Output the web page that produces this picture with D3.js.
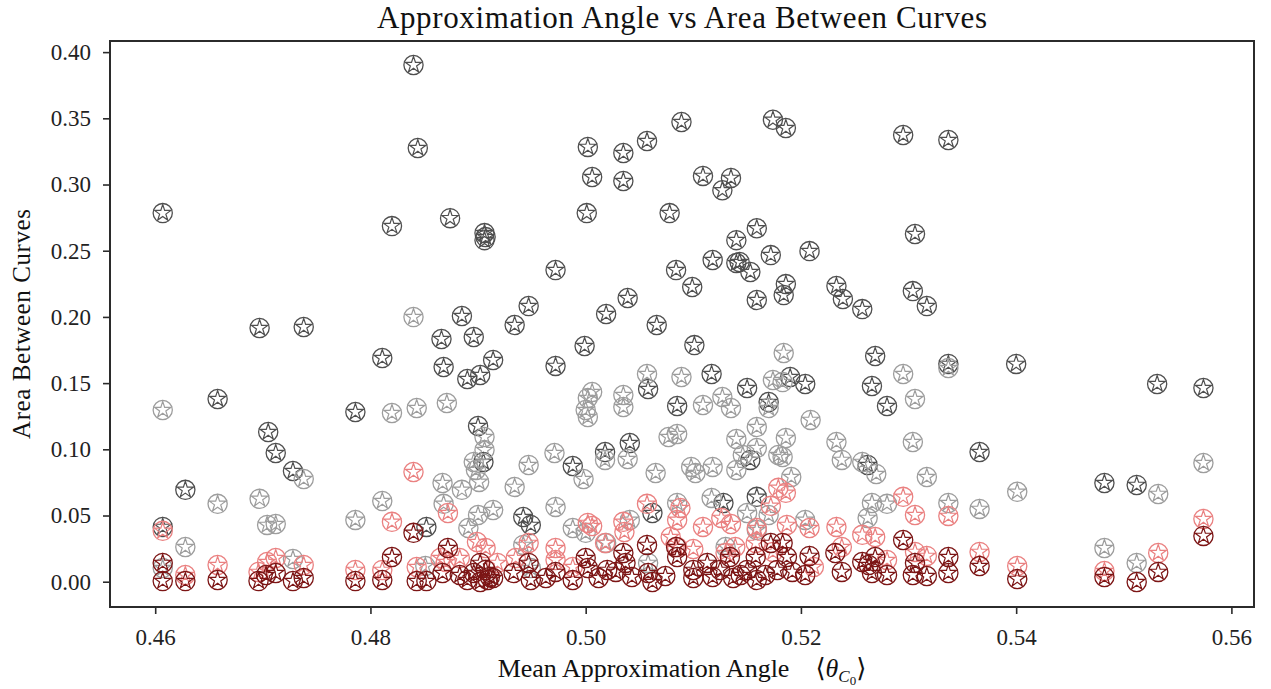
<!DOCTYPE html>
<html><head><meta charset="utf-8">
<script src="https://cdn.jsdelivr.net/npm/d3@7"></script>
<style>body{margin:0;background:#fff}svg{display:block}text{font-family:"Liberation Serif","DejaVu Serif",serif}</style>
</head><body><svg id="c" width="1271" height="689"></svg>
<script>
const xTicks=[0.46,0.48,0.50,0.52,0.54,0.56];
const yTicks=[0.00,0.05,0.10,0.15,0.20,0.25,0.30,0.35,0.40];
const seriesNames=["dark gray","light gray","light red","dark red"];
const darkGray=[[0.4607,0.2784],[0.4607,0.0414],[0.4628,0.0694],[0.4658,0.1380],[0.4697,0.1916],[0.4705,0.1131],[0.4712,0.0972],[0.4728,0.0836],[0.4738,0.1924],[0.4786,0.1282],[0.4811,0.1690],[0.4820,0.2686],[0.4840,0.3903],[0.4844,0.3276],[0.4852,0.0414],[0.4866,0.1833],[0.4868,0.1622],[0.4874,0.2746],[0.4885,0.2007],[0.4890,0.1531],[0.4896,0.1848],[0.4902,0.1561],[0.4900,0.1176],[0.4905,0.0905],[0.4906,0.2633],[0.4907,0.2603],[0.4906,0.2580],[0.4914,0.1675],[0.4934,0.1939],[0.4942,0.0489],[0.4949,0.0429],[0.4947,0.2082],[0.4972,0.2354],[0.4972,0.1630],[0.4988,0.0874],[0.5001,0.2784],[0.5002,0.3284],[0.4999,0.1780],[0.5006,0.3057],[0.5019,0.2022],[0.5018,0.0980],[0.5035,0.3238],[0.5035,0.3027],[0.5039,0.2143],[0.5041,0.1048],[0.5057,0.3329],[0.5058,0.1456],[0.5062,0.0519],[0.5066,0.1939],[0.5078,0.2784],[0.5084,0.2354],[0.5085,0.1327],[0.5089,0.3472],[0.5099,0.2226],[0.5101,0.1787],[0.5109,0.3065],[0.5118,0.2430],[0.5117,0.1569],[0.5127,0.2957],[0.5128,0.0595],[0.5135,0.3050],[0.5140,0.2580],[0.5140,0.2407],[0.5143,0.2415],[0.5150,0.1463],[0.5153,0.2339],[0.5153,0.0920],[0.5159,0.2128],[0.5159,0.0641],[0.5159,0.2670],[0.5170,0.1357],[0.5172,0.2467],[0.5174,0.3489],[0.5184,0.2165],[0.5186,0.3427],[0.5186,0.2248],[0.5190,0.1546],[0.5204,0.1493],[0.5208,0.2497],[0.5233,0.2233],[0.5239,0.2135],[0.5257,0.2059],[0.5262,0.0882],[0.5266,0.1478],[0.5269,0.1705],[0.5280,0.1327],[0.5295,0.3374],[0.5304,0.2195],[0.5306,0.2626],[0.5317,0.2082],[0.5337,0.3336],[0.5337,0.1645],[0.5366,0.0980],[0.5400,0.1645],[0.5482,0.0746],[0.5512,0.0731],[0.5531,0.1493],[0.5574,0.1463]];
const lightGray=[[0.4607,0.1297],[0.4607,0.0104],[0.4628,0.0262],[0.4658,0.0588],[0.4697,0.0626],[0.4704,0.0429],[0.4712,0.0436],[0.4728,0.0172],[0.4738,0.0776],[0.4786,0.0467],[0.4811,0.0610],[0.4820,0.1274],[0.4840,0.1999],[0.4843,0.1312],[0.4851,0.0119],[0.4867,0.0746],[0.4868,0.0588],[0.4871,0.1350],[0.4885,0.0694],[0.4896,0.0905],[0.4898,0.0844],[0.4901,0.0754],[0.4906,0.1093],[0.4906,0.0995],[0.4900,0.0504],[0.4914,0.0542],[0.4891,0.0406],[0.4934,0.0716],[0.4947,0.0882],[0.4942,0.0278],[0.4949,0.0104],[0.4971,0.0972],[0.4972,0.0565],[0.4988,0.0406],[0.4998,0.0776],[0.5000,0.0369],[0.5000,0.1297],[0.5002,0.1244],[0.5002,0.1388],[0.5006,0.1433],[0.5018,0.0920],[0.5019,0.0293],[0.5035,0.1410],[0.5035,0.1320],[0.5039,0.0927],[0.5041,0.0467],[0.5057,0.1569],[0.5058,0.0142],[0.5065,0.0821],[0.5077,0.1093],[0.5085,0.1116],[0.5085,0.0595],[0.5089,0.1546],[0.5098,0.0867],[0.5102,0.0821],[0.5109,0.1335],[0.5117,0.0633],[0.5118,0.0867],[0.5127,0.1395],[0.5130,0.0262],[0.5135,0.1312],[0.5140,0.1078],[0.5140,0.0844],[0.5146,0.0957],[0.5150,0.0519],[0.5159,0.1010],[0.5159,0.1169],[0.5159,0.0391],[0.5170,0.1312],[0.5170,0.0504],[0.5174,0.1524],[0.5179,0.0957],[0.5184,0.1728],[0.5183,0.1508],[0.5186,0.1086],[0.5183,0.0942],[0.5191,0.0791],[0.5204,0.0467],[0.5209,0.1222],[0.5233,0.1055],[0.5238,0.0920],[0.5257,0.0905],[0.5270,0.0814],[0.5262,0.0482],[0.5266,0.0595],[0.5280,0.0588],[0.5295,0.1569],[0.5306,0.1380],[0.5304,0.1055],[0.5317,0.0791],[0.5337,0.1614],[0.5337,0.0595],[0.5366,0.0550],[0.5401,0.0679],[0.5482,0.0255],[0.5512,0.0142],[0.5532,0.0663],[0.5574,0.0897]];
const lightRed=[[0.4607,0.0384],[0.4628,0.0051],[0.4658,0.0126],[0.4696,0.0074],[0.4704,0.0149],[0.4712,0.0179],[0.4738,0.0126],[0.4786,0.0089],[0.4811,0.0089],[0.4820,0.0452],[0.4840,0.0829],[0.4843,0.0111],[0.4865,0.0179],[0.4872,0.0519],[0.4870,0.0149],[0.4883,0.0179],[0.4899,0.0300],[0.4907,0.0255],[0.4918,0.0142],[0.4935,0.0179],[0.4947,0.0293],[0.4972,0.0255],[0.4972,0.0164],[0.4988,0.0111],[0.5002,0.0444],[0.5006,0.0421],[0.5018,0.0293],[0.5035,0.0452],[0.5036,0.0376],[0.5057,0.0588],[0.5079,0.0338],[0.5085,0.0467],[0.5088,0.0557],[0.5085,0.0262],[0.5100,0.0247],[0.5109,0.0414],[0.5126,0.0482],[0.5130,0.0217],[0.5135,0.0436],[0.5139,0.0262],[0.5158,0.0293],[0.5159,0.0406],[0.5172,0.0573],[0.5174,0.0225],[0.5179,0.0709],[0.5186,0.0671],[0.5187,0.0429],[0.5208,0.0406],[0.5212,0.0111],[0.5233,0.0414],[0.5238,0.0262],[0.5257,0.0354],[0.5269,0.0338],[0.5280,0.0164],[0.5295,0.0641],[0.5306,0.0504],[0.5306,0.0225],[0.5317,0.0195],[0.5337,0.0497],[0.5366,0.0225],[0.5401,0.0119],[0.5482,0.0081],[0.5532,0.0217],[0.5574,0.0474]];
const darkRed=[[0.4607,0.0142],[0.4607,0.0005],[0.4628,0.0005],[0.4658,0.0013],[0.4696,0.0005],[0.4703,0.0051],[0.4712,0.0066],[0.4728,0.0005],[0.4738,0.0028],[0.4786,0.0005],[0.4811,0.0013],[0.4820,0.0187],[0.4840,0.0369],[0.4843,0.0005],[0.4852,0.0005],[0.4867,0.0066],[0.4872,0.0255],[0.4883,0.0051],[0.4890,0.0013],[0.4896,0.0066],[0.4902,0.0142],[0.4902,-0.0002],[0.4911,0.0036],[0.4914,0.0028],[0.4907,0.0089],[0.4909,0.0013],[0.4933,0.0066],[0.4947,0.0142],[0.4949,0.0013],[0.4963,0.0028],[0.4972,0.0074],[0.4988,0.0013],[0.5000,0.0179],[0.5002,0.0104],[0.5012,0.0028],[0.5020,0.0089],[0.5028,0.0074],[0.5035,0.0217],[0.5037,0.0142],[0.5043,0.0036],[0.5057,0.0278],[0.5058,0.0066],[0.5062,-0.0002],[0.5074,0.0043],[0.5084,0.0262],[0.5085,0.0187],[0.5100,0.0089],[0.5100,0.0028],[0.5113,0.0142],[0.5118,0.0036],[0.5125,0.0089],[0.5134,0.0187],[0.5137,0.0028],[0.5144,0.0051],[0.5150,0.0089],[0.5158,0.0187],[0.5159,0.0013],[0.5167,0.0051],[0.5172,0.0293],[0.5178,0.0089],[0.5183,0.0293],[0.5187,0.0187],[0.5192,0.0074],[0.5204,0.0051],[0.5208,0.0195],[0.5232,0.0217],[0.5238,0.0074],[0.5257,0.0149],[0.5263,0.0126],[0.5266,0.0066],[0.5269,0.0187],[0.5280,0.0051],[0.5295,0.0315],[0.5304,0.0051],[0.5306,0.0142],[0.5317,0.0043],[0.5337,0.0187],[0.5337,0.0066],[0.5366,0.0119],[0.5401,0.0021],[0.5482,0.0036],[0.5512,-0.0002],[0.5532,0.0074],[0.5574,0.0346]];
const seriesData=[darkGray,lightGray,lightRed,darkRed];
const seriesColors=["#4f4f4f","#9d9d9d","#ea8181","#7c1515"];

const svg=d3.select("#c");
const L=110,R=1254,T=41,B=607;
const x=d3.scaleLinear().domain([0.4558,0.5621]).range([L,R]);
const y=d3.scaleLinear().domain([-0.0191,0.4084]).range([B,T]);

svg.append("rect").attr("x",L).attr("y",T).attr("width",R-L).attr("height",B-T)
  .attr("fill","none").attr("stroke","#2b2b2b").attr("stroke-width",2);

const xa=svg.append("g").attr("transform",`translate(0,${B})`)
  .call(d3.axisBottom(x).tickValues(xTicks).tickFormat(d3.format(".2f")).tickSizeOuter(0).tickSize(7).tickPadding(15));
const ya=svg.append("g").attr("transform",`translate(${L},0)`)
  .call(d3.axisLeft(y).tickValues(yTicks).tickFormat(d3.format(".2f")).tickSizeOuter(0).tickSize(7).tickPadding(12));
[xa,ya].forEach(a=>{a.select(".domain").remove();
  a.selectAll("line").attr("stroke","#2b2b2b").attr("stroke-width",1.6);
  a.selectAll("text").attr("font-size",23).attr("fill","#222").style("font-family",'"Liberation Serif",serif');});

function star(r){const pts=[];for(let i=0;i<10;i++){const a=-Math.PI/2+i*Math.PI/5;const rr=i%2?r*0.382:r;pts.push([rr*Math.cos(a),rr*Math.sin(a)]);}return "M"+pts.map(p=>p[0].toFixed(2)+","+p[1].toFixed(2)).join("L")+"Z";}
const sp=star(8.6);
svg.append("clipPath").attr("id","pc").append("rect").attr("x",L).attr("y",T).attr("width",R-L).attr("height",B-T);
const plot=svg.append("g").attr("clip-path","url(#pc)");
seriesData.forEach((data,i)=>{
  const g=plot.append("g").attr("class","series").attr("data-name",seriesNames[i]);
  const m=g.selectAll("g").data(data).join("g").attr("transform",d=>`translate(${x(d[0])},${y(d[1])})`);
  m.append("circle").attr("r",9.6).attr("fill","none").attr("stroke",seriesColors[i]).attr("stroke-width",1.3);
  m.append("path").attr("d",sp).attr("fill","none").attr("stroke",seriesColors[i]).attr("stroke-width",1.2);
});

svg.append("text").attr("x",(L+R)/2).attr("y",28).attr("text-anchor","middle").attr("font-size",31).attr("fill","#111")
  .attr("textLength",610).attr("lengthAdjust","spacing")
  .text("Approximation Angle vs Area Between Curves");
svg.append("text").attr("transform",`translate(30,${(T+B)/2}) rotate(-90)`).attr("text-anchor","middle").attr("font-size",25).attr("fill","#111")
  .attr("textLength",230).attr("lengthAdjust","spacing")
  .text("Area Between Curves");
const xl=svg.append("text").attr("x",(L+R)/2).attr("y",677).attr("text-anchor","middle").attr("font-size",26).attr("fill","#111");
xl.append("tspan").text("Mean Approximation Angle \u00A0\u00A0\u00A0\u27E8");
xl.append("tspan").attr("font-style","italic").text("\u03B8");
xl.append("tspan").attr("font-style","italic").attr("font-size",17).attr("dy",5).text("C");
xl.append("tspan").attr("font-size",13).attr("dy",3).text("0");
xl.append("tspan").attr("dy",-8).text("\u27E9");
</script></body></html>
